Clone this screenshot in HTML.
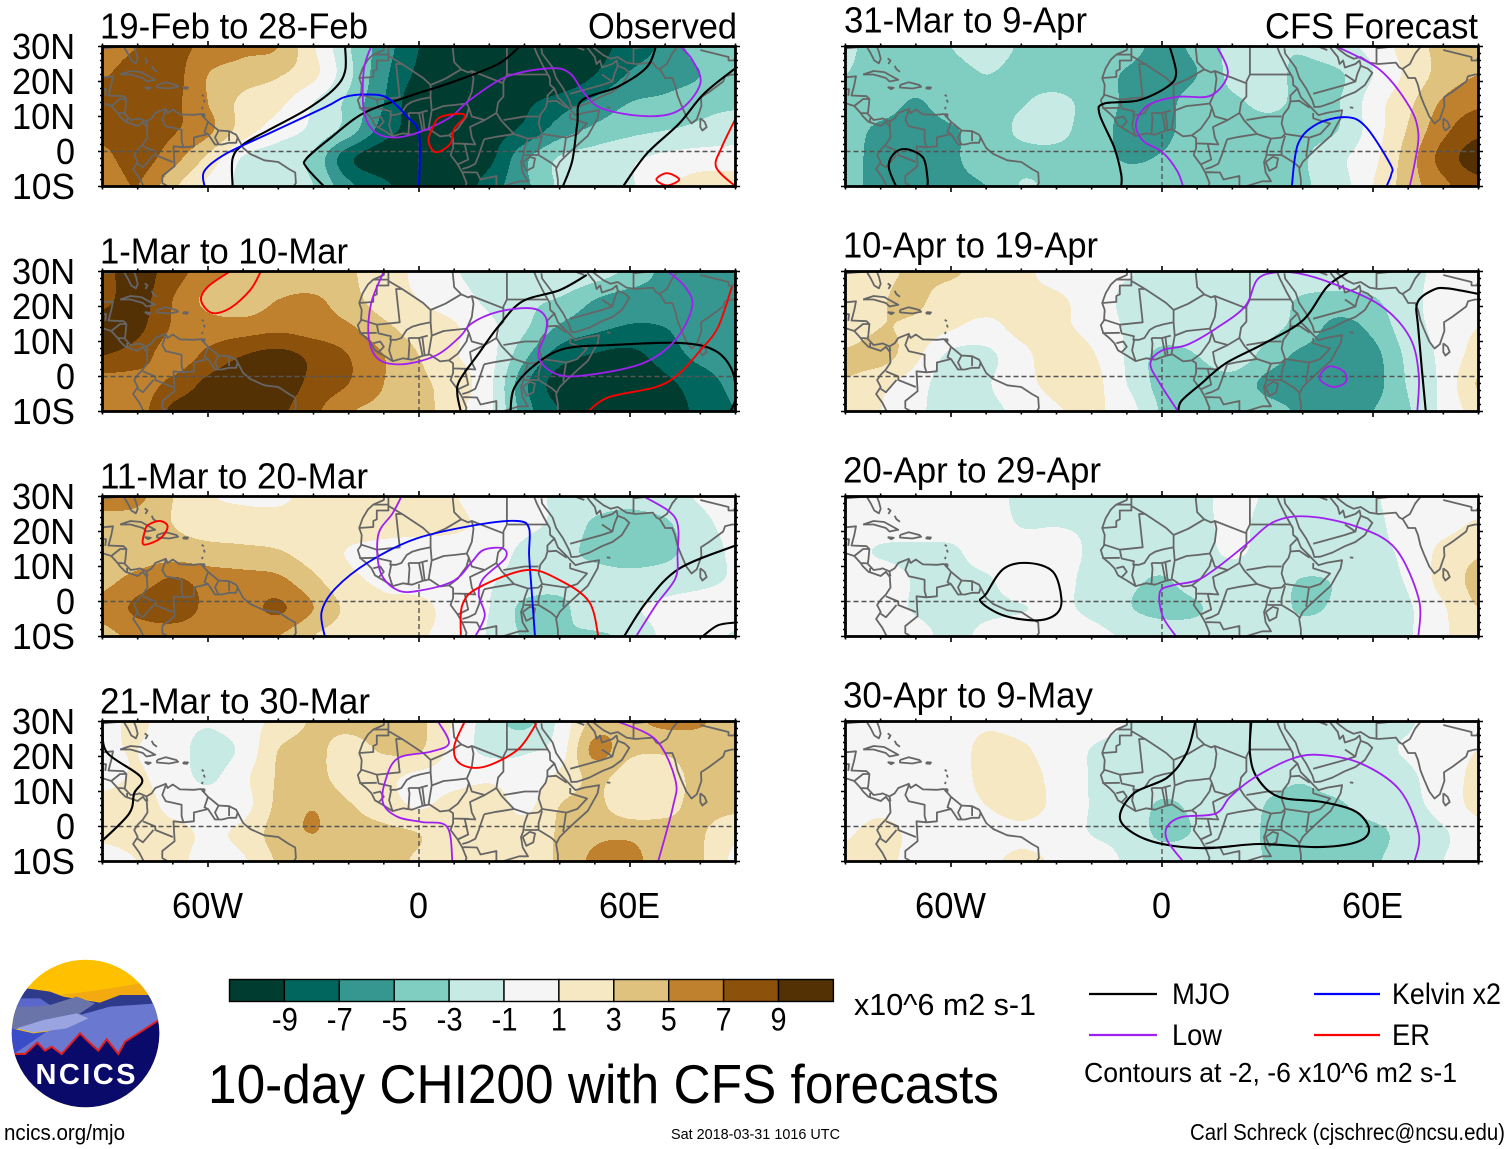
<!DOCTYPE html>
<html lang="en">
<head>
<meta charset="utf-8">
<title>10-day CHI200 with CFS forecasts</title>
<style>
html,body{margin:0;padding:0;background:#fff;width:1510px;height:1149px;overflow:hidden}
svg{display:block}
text{font-family:"Liberation Sans",sans-serif;fill:#000}
</style>
</head>
<body>
<svg id="chart" xmlns="http://www.w3.org/2000/svg" width="1510" height="1149" viewBox="0 0 1510 1149">
  <g id="panels"></g>

  <g font-size="36">
    <text x="100" y="38.5" textLength="268" lengthAdjust="spacingAndGlyphs">19-Feb to 28-Feb</text>
    <text x="100" y="263.5" textLength="248" lengthAdjust="spacingAndGlyphs">1-Mar to 10-Mar</text>
    <text x="100" y="488.5" textLength="268" lengthAdjust="spacingAndGlyphs">11-Mar to 20-Mar</text>
    <text x="100" y="713.5" textLength="270" lengthAdjust="spacingAndGlyphs">21-Mar to 30-Mar</text>
    <text x="844" y="32.5" textLength="243" lengthAdjust="spacingAndGlyphs">31-Mar to 9-Apr</text>
    <text x="843" y="257.5" textLength="255" lengthAdjust="spacingAndGlyphs">10-Apr to 19-Apr</text>
    <text x="843" y="482.5" textLength="258" lengthAdjust="spacingAndGlyphs">20-Apr to 29-Apr</text>
    <text x="843" y="707.5" textLength="250" lengthAdjust="spacingAndGlyphs">30-Apr to 9-May</text>
    <text x="588" y="38.5" textLength="149" lengthAdjust="spacingAndGlyphs">Observed</text>
    <text x="1265" y="38.5" textLength="213" lengthAdjust="spacingAndGlyphs">CFS Forecast</text>
  </g>

  <g id="colorbar"></g>
  <text x="854" y="1015" font-size="31" textLength="182" lengthAdjust="spacingAndGlyphs">x10^6 m2 s-1</text>

  <text x="208" y="1103" font-size="55" textLength="791" lengthAdjust="spacingAndGlyphs">10-day CHI200 with CFS forecasts</text>

  <g>
    <line x1="1089" y1="994" x2="1157" y2="994" stroke="#000" stroke-width="2.2"/>
    <text x="1172" y="1004" font-size="30" textLength="58" lengthAdjust="spacingAndGlyphs">MJO</text>
    <line x1="1314" y1="994" x2="1380" y2="994" stroke="#0000ff" stroke-width="2.2"/>
    <text x="1392" y="1004" font-size="30" textLength="109" lengthAdjust="spacingAndGlyphs">Kelvin x2</text>
    <line x1="1089" y1="1035" x2="1157" y2="1035" stroke="#a020f0" stroke-width="2.2"/>
    <text x="1172" y="1045" font-size="30" textLength="50" lengthAdjust="spacingAndGlyphs">Low</text>
    <line x1="1314" y1="1035" x2="1380" y2="1035" stroke="#ff0000" stroke-width="2.2"/>
    <text x="1392" y="1045" font-size="30" textLength="38" lengthAdjust="spacingAndGlyphs">ER</text>
    <text x="1084" y="1082" font-size="28" textLength="373" lengthAdjust="spacingAndGlyphs">Contours at -2, -6 x10^6 m2 s-1</text>
  </g>

  <a><text x="4" y="1140" font-size="22" textLength="121" lengthAdjust="spacingAndGlyphs">ncics.org/mjo</text></a>
  <text x="671" y="1139" font-size="15" textLength="169" lengthAdjust="spacingAndGlyphs">Sat 2018-03-31 1016 UTC</text>
  <text x="1190" y="1140" font-size="23" textLength="315" lengthAdjust="spacingAndGlyphs">Carl Schreck (cjschrec@ncsu.edu)</text>

  <g>
    <defs><clipPath id="logo-clip"><circle cx="85.5" cy="1033.5" r="73.8"/></clipPath></defs>
    <g clip-path="url(#logo-clip)">
      <rect x="10" y="958" width="152" height="152" fill="#ffc000"/>
      <polygon fill="#f2aa10" points="160,980 100,990 60,995 100,1002 160,1002"/>
      <g transform="translate(0,950) scale(0.33333)">
        <polygon fill="#2e3a8c" points="80,115 150,125 190,140 300,158 360,135 450,135 490,200 20,200"/>
        <polygon fill="#6a74a8" points="50,155 120,150 150,165 230,140 285,160 240,190 265,215 20,240 20,200"/>
        <polygon fill="#5a68cc" points="55,145 120,145 150,165 100,170 50,170"/>
        <polygon fill="#6a78d0" points="240,195 330,170 470,160 490,215 490,330 20,330 40,300 140,245 265,205"/>
        <polygon fill="#9aa4e0" points="50,235 130,210 230,190 265,205 200,235 100,248"/>
        <polygon fill="#3a4cc8" points="20,232 100,250 140,245 45,310 20,320"/>
        <polygon fill="#0a0a6a" stroke="#e02020" stroke-width="6" points="42,312 75,312 112,278 135,302 155,290 185,312 240,250 265,275 295,302 320,268 355,312 375,275 480,208 520,520 20,520 20,312"/>
      </g>
    </g>
    <text x="85.5" y="1084" font-size="29" font-weight="bold" text-anchor="middle" style="fill:#fff" textLength="100" lengthAdjust="spacing">NCICS</text>
  </g>
</svg>

<script>
// Grid coordinates of the CHI200 anomaly samples
const gridLons = [-90,-80,-70,-60,-50,-40,-30,-20,-10,0,10,20,30,40,50,60,70,80,90];
const gridLats = [30,22,14,6,-2,-10];

// Colour classes
const levelBreaks = [-9,-7,-5,-3,-1,1,3,5,7,9];
const levelColors = ['#003c30','#01665e','#35978f','#80cdc1','#c7eae5','#f5f5f5','#f6e8c3','#dfc27d','#bf812d','#8c510a','#543005'];

// Axis tick labels
const latTickValues = [30,20,10,0,-10];
const lonTickValues = [-60,0,60];

// CHI200 field values (x10^6 m2 s-1); rows follow gridLats
const fieldFeb19 = [
 [6,7,7.5,6.5,5.5,5,1.2,-2.8,-6,-9,-10.5,-11,-11,-11,-10,-8,-6.5,-4,-3.5],
 [6.8,8,7.8,5,4,3.2,1.5,-2.5,-6.5,-9.5,-11,-11,-11,-11,-9,-6.8,-6,-5,-3],
 [8,8,7.5,5,2.5,1.5,-1,-3.5,-7,-10.5,-11,-11,-9.5,-8,-6.5,-5,-4.5,-3.6,-3.2],
 [7.5,8,7.2,5.5,2,0,-1.5,-4,-8,-10,-11,-10,-8.5,-6,-4.5,-3.5,-3,-2.5,-2],
 [6.5,7.8,5.8,2.5,-1.2,-2.2,-3.5,-8.5,-10.5,-11,-11,-9.5,-5.5,-2.8,-2,-1.3,-0.5,0,0],
 [5.5,7,3.5,0.5,-1.5,-2,-3,-6.5,-8.5,-10.5,-10.5,-8,-5.5,-2.7,-2,-1.2,0.7,1.8,2]
];
const fieldMar1 = [
 [8.5,9.8,8,5.8,4.5,3.8,3.5,3.2,2,0.5,-0.8,-2,-2,-1.2,-2,-3.5,-5.5,-6,-6],
 [8.5,9.8,7,4.5,3.8,5,5.3,3.8,2,1,0,-1.5,-2.5,-3.2,-5,-6,-6,-6,-6],
 [10,9.5,6.8,6,6,6.5,6,5.3,3.5,2,1.2,-0.5,-2.7,-5.3,-6.5,-7.2,-7,-6,-6],
 [9,8,6,7.5,9,9.6,8.5,7,5,3,1.2,-0.3,-4.5,-8,-9.2,-9.6,-8,-6.5,-6],
 [6,6.2,7.5,9.5,10.5,10,8.5,7,5,3.5,2,-0.5,-6.5,-10,-11,-11,-9.5,-8,-6.5],
 [5.2,6,9.5,10,10.5,9.5,7.5,5.2,4.5,4,1.5,-0.5,-6,-9,-10,-10.5,-10,-8.5,-7]
];
const fieldMar11 = [
 [5.8,5.5,3,1.2,0.7,0.7,1.5,1.6,1.8,1.5,1.1,0,-0.5,-1.3,-2,-2.5,-1.8,-0.8,-0.5],
 [4.2,4,3,2.2,2,1.8,1.8,1.8,1.6,1.5,1.3,0.5,-0.5,-1.5,-3.3,-3.6,-3.3,-1.5,-0.5],
 [3.5,3.8,4,3.7,3.5,3.2,2,0.9,0.5,0.3,0.2,0,-1.5,-2.5,-3.3,-3.5,-3.4,-2,-0.7],
 [4.5,5.8,7.3,6.2,5.8,5.5,3.5,1.5,0.7,0.3,-0.2,-0.8,-1.8,-2.3,-2.3,-2.5,-2,-1.5,-0.8],
 [5.5,7.5,8.3,6.5,6.2,7.3,5,2.5,1.5,1.5,0.2,-1,-3.5,-3.5,-1.5,-1.2,-0.5,0,0],
 [4.5,5.5,5.8,5.5,5.3,5,3,2,1.8,1.2,0.3,-1.2,-3.2,-3,-3.3,-2.5,-0.6,-0.3,-1.2]
];
const fieldMar21 = [
 [0.5,1.3,0,-0.8,0.3,1.5,3.3,3.8,4.5,3.5,0.8,-2,-3.5,-0.5,3.8,4.5,5.5,5.2,4],
 [0.8,1,0,-1.8,-0.5,3,3.6,2,3.3,3.2,0.3,-1.5,-1.3,0,5.6,3.5,3.3,4,3.8],
 [0.3,1.2,0,-1.3,0.5,3.2,3.8,1.8,1.5,0.5,0.3,0.6,0,1.5,3.5,2,2.3,3.5,3.5],
 [1.8,1.8,0.5,0,0.3,3.5,4.9,3.2,2,0.8,1.8,2.2,0.5,3,3.5,1.8,2.5,3.5,3.5],
 [1.3,1.5,1.5,0.8,1.5,4,5,3.8,3.5,3,1.8,2,2,3.2,4.5,4.5,3.6,3.2,1.5],
 [0.5,1,1.5,0.3,0.8,3.2,3.6,3.7,3.6,2.7,1.5,1.5,2,3.3,5.5,5.8,3.5,3.2,0.5]
];
const fieldMar31 = [
 [-2.8,-3.5,-3.8,-3,-2.3,-3.2,-3.8,-4,-4.3,-5.5,-4.5,-2.5,-2.8,-2.8,-1.5,-0.5,2,3.5,4],
 [-3,-3.6,-3.8,-3.6,-3,-3.5,-3.8,-4.2,-5.2,-6,-5,-2.5,-2.3,-3.5,-3.3,-1,1.5,3.8,5],
 [-3.5,-3.9,-5.2,-3.8,-3.3,-3.1,-2.6,-3.7,-5.3,-5.6,-4,-3.3,-2.7,-3.3,-3.1,0,2.5,5.3,6.6],
 [-4,-5.5,-5.8,-5.3,-3.8,-2.8,-2.5,-4,-5.5,-5.5,-4,-3.5,-3.5,-3.5,-3,0,3.2,6.5,8.5],
 [-4.2,-5.8,-6,-5.5,-3.5,-3.4,-3.6,-4,-5.2,-4.8,-3.8,-3.5,-3.5,-3.2,-1.5,0.5,4,7.8,10],
 [-4.3,-5.7,-6,-5.8,-5,-2.9,-3.4,-3.6,-3.8,-3.8,-3.7,-3.5,-3.5,-3.2,-2,1,4,6.5,8.3]
];
const fieldApr10 = [
 [1.5,2.5,3.3,3.4,1.8,1.3,0.5,0,-0.8,-1.5,-1.7,-1.6,-1.8,-1.8,-1.8,-1.6,-1.5,-0.5,-0.3],
 [1.5,2.8,3.4,1.8,1.6,1.3,1.2,0.3,-1.5,-2,-2,-2,-2.2,-3.2,-3.6,-3.2,-1.5,-0.5,-0.3],
 [1.5,3,2.5,1.2,0.5,1.5,1.3,0.5,-1.2,-1.6,-2,-1.8,-2.4,-3.8,-5.6,-4.5,-1.8,-0.4,1],
 [3.4,3.8,1.5,-1.5,-1.5,0.5,1.7,1.2,-1.2,-3.6,-3,-1.8,-3.8,-5.5,-5.8,-5.6,-2.5,-0.5,1.8],
 [2.8,1.5,0,-2.2,-1.2,0.3,1.6,1.7,-1,-3.7,-4,-3.8,-5.5,-6.2,-6.3,-5.8,-2.8,-0.5,3.2],
 [1.3,1,-0.5,-2,-1.5,-0.5,0.8,1.3,0,-3.2,-3.7,-3.5,-4.2,-5.3,-5.7,-5,-3.2,-0.5,1.8]
];
const fieldApr20 = [
 [0,0,0,0,0,-1.5,-1.5,-1.5,-1.5,-1.7,-1.5,-0.5,-1.2,-1.6,-1.6,-1.2,0,0,0],
 [0,0,0,0,0,-1.1,-1.1,-1.3,-1.5,-1.7,-1.5,-0.6,-1.5,-1.7,-1.7,-1.5,0,0.3,1.3],
 [-0.3,-1.2,-1.5,-1.4,0,0,0.3,-1.4,-1.6,-1.8,-1.6,-0.8,-1.5,-1.8,-1.8,-1.5,-0.5,1.6,2.8],
 [0,0.3,-1.2,-1.5,-1.3,0.3,0,-1.8,-2.5,-3.2,-2,-1.8,-2,-3.1,-2.8,-1.5,-0.8,1.8,3.5],
 [0,0,-1.2,-1.6,-1.4,-1.1,-0.6,-1.5,-2.8,-3.6,-3.2,-1.7,-1.8,-3.3,-2.6,-1.6,-1.2,0.8,3],
 [0,0,-0.3,-1.5,-0.5,0.3,0.2,-0.3,-1.3,-1.8,-2,-1.8,-1.8,-1.8,-1.8,-1.7,-1.2,0.8,1.5]
];
const fieldApr30 = [
 [0,0,0,0,0.7,0.3,0,-0.3,-1,-1.5,-1.5,-1.5,-1.5,-1.5,-1.5,-1.4,-1.2,0,0],
 [0,0,0,0,1.6,1.3,0,-1.05,-1.5,-1.7,-1.7,-1.7,-1.7,-1.7,-1.6,-1.4,-0.8,0,1],
 [0,0,0,0,1.6,1.8,0.4,-1.1,-1.6,-1.7,-1.8,-1.8,-2.4,-2.8,-2,-1.7,-1.3,0,1.5],
 [0,0.5,0,0,1,1.8,0.5,-1.1,-1.6,-3.3,-2.5,-1.7,-3.1,-3.5,-3.3,-2,-1.5,-0.3,1.6],
 [0.8,1.6,0.5,0,0,0.5,0,-1.05,-1.6,-3.4,-2.8,-1.8,-3.3,-3.8,-4,-3.6,-2.2,-1.2,0],
 [1.4,1.6,0.3,0,0.5,1.5,0.7,0,-1.2,-1.7,-1.8,-2,-3.1,-3.6,-3.7,-3.3,-1.8,-1,0]
];

// Filtered-anomaly contours as [lon, lat] samples (first = last means closed)
const mjoFeb19 = [
 [[-21,30],[-21,23],[-24,18],[-32,12],[-43,6],[-50,2],[-53,-2],[-53,-10]],
 [[28.6,30],[22.5,25],[10,20],[-3.4,15.6],[-15.7,11],[-25,4],[-32,-2],[-32,-4.5],[-27,-10]],
 [[67.4,30],[64.7,24],[56.5,18.5],[46.3,14.6],[45,8],[43.6,-2.6],[40.9,-10]],
 [[90,23.8],[81,16.5],[74,8],[64.7,-0.7],[58,-10]]
];
const kelvinFeb19 = [[[-61,-10],[-61,-5.5],[-55,-0.7],[-43,5],[-26.6,12.7],[-21,15.6],[-14.3,16.3],[-9,15.3],[-3.4,10],[0,5],[0,-10]]];
const lowFeb19 = [[[-13.6,30],[-15.7,23.3],[-15.7,11.8],[-13,6],[-7.5,4],[0,5.5],[8.9,9.8],[14.3,14.6],[25,21.4],[37.5,23.8],[43,22.3],[47,16.6],[52.3,12.2],[64.7,10.1],[74,11.8],[80,19.4],[77.7,26.2],[74.3,30]]];
const erFeb19 = [
 [[4,7],[6,9.8],[11.6,10.8],[13,9.8],[10,6.5],[8.9,2.2],[4.8,-0.2],[2.7,3],[4,7]],
 [[67.5,-8],[70.5,-6.2],[74,-8],[70.5,-9.7],[67.5,-8]],
 [[90,9.4],[86,1],[84.5,-4.5],[90,-10]]
];
const mjoMar1 = [
 [[47.7,29],[40,24.7],[29.3,21.4],[22.5,14.2],[17,6.6],[11.6,-1],[10.9,-5],[11.9,-10]],
 [[26,-10],[27.2,-3],[33.4,3.7],[41.6,8],[55,9],[74,9.6],[84,7.5],[89,1.8],[90,-6],[88.5,-10]]
];
const lowMar1 = [[[-10,30],[-13.6,21],[-14.3,11.3],[-11.6,5],[-4.8,3.5],[4.8,6],[11.6,11.3],[15,15.2],[22.5,18.5],[32,19.5],[36,17],[36,12.3],[34,5.6],[38.8,0.8],[47,0.3],[63.4,3.7],[72.9,10.4],[77.7,20],[75.6,25.7],[70.8,30]]];
const erMar1 = [
 [[-53.8,30],[-60,25.7],[-62,21.9],[-59,18.2],[-53.8,19.5],[-48,24.7],[-45,30]],
 [[48,-10],[54,-5.9],[67.4,-3],[74,0.8],[80,7.5],[85,14],[89,25.7]]
];
const mjoMar11 = [
 [[58.3,-10],[64.7,-0.1],[74,9.4],[90,16]],
 [[80.6,-10],[85,-6.8],[90,-6]]
];
const kelvinMar11 = [[[-26.8,-10],[-27.7,-3],[-23.8,3.7],[-14.3,11.3],[-0.7,18],[17,22],[28,23],[31.3,20.9],[31.3,13.3],[32,3.7],[33,-10]]];
const lowMar11 = [
 [[-5,30],[-7.5,25.2],[-11.6,19],[-11,8.5],[-6,3.2],[0.7,3.2],[10,6],[15,11.3],[18.3,14.7],[23.8,15.2],[24.5,12.3],[18.3,6.6],[17,1.8],[18.7,-4],[16,-10]],
 [[64,30],[72.9,23.8],[73.5,13.3],[72.9,6.6],[67.4,-1],[61.7,-10]]
];
const erMar11 = [
 [[-77,21.9],[-73.6,23],[-71.5,21.4],[-73.6,18],[-78.3,16.3],[-78,19.9],[-77,21.9]],
 [[11.9,-10],[12.3,-1],[17,4],[30.7,9],[40.2,6],[48.4,-0.1],[51,-10]]
];
const mjoMar21 = [[[-90,27.6],[-88.6,21],[-79,14],[-81,9.5],[-82.4,3.7],[-90,-4]]];
const lowMar21 = [
 [[5.4,30],[8.5,23.8],[3.4,21.4],[-6,19.5],[-9.5,13.3],[-10.2,6.6],[-6,2.7],[0.7,1.3],[8,-0.1],[9.5,-10]],
 [[56.5,30],[67.4,24.7],[72.9,13.3],[72.2,5.6],[68,-10]]
];
const erMar21 = [[[13,30],[10,22.8],[11.6,18],[18.3,17],[28,21.9],[33.4,29.5]]];
const mjoMar31 = [
 [[2.2,30],[4,22.3],[1.5,18.5],[-6.7,14.6],[-16.4,13.7],[-17.8,10.8],[-13.6,1.2],[-11.6,-6.5],[-11.6,-10]],
 [[-75.6,-10],[-77.7,-4.5],[-76.3,-0.7],[-72.9,0.7],[-68,-1.7],[-66.7,-7.4],[-66.7,-10]]
];
const lowMar31 = [
 [[15.6,30],[18.7,22.3],[13.9,16],[4.3,15.6],[-4,13.2],[-7.4,7.9],[-5.4,3.1],[0.1,-0.2],[4.3,-5.5],[6,-10]],
 [[49.7,30],[62,23.3],[70.4,12.7],[72.9,5],[71.8,-3.6],[70.4,-10]]
];
const kelvinMar31 = [[[36.9,-10],[38.7,2.2],[44.2,7.9],[52.5,9.8],[58,7],[64.9,-3.6],[65.2,-6.5],[63.8,-10]]];
const mjoApr10 = [
 [[53.2,30],[47,25.7],[40,16],[29,9.4],[18,3.7],[11.2,-2],[5.6,-6.9],[4.6,-10]],
 [[75,-10],[72.9,13.3],[72.6,21],[77,24.7],[81,25.2],[90,23.6]]
];
const lowApr10 = [
 [[4.6,-10],[-0.6,-2],[-3.3,3.7],[0.1,7.5],[7,9],[15.3,13.7],[23.6,20],[27,27.6],[31.9,29.7],[38.7,29.5],[48.4,26.6],[62,20.4],[70.4,11.3],[73,0.8],[72.6,-10]],
 [[44.9,0.3],[47.7,2.9],[51.8,1.3],[52.2,-1.6],[49,-3],[45.6,-1.6],[44.9,0.3]]
];
const mjoApr20 = [[[-50,2.2],[-45,9.4],[-38,11],[-31,8.5],[-28.6,0.8],[-30,-3.5],[-35.6,-5.4],[-45,-4],[-51.5,-0.1],[-50,2.2]]];
const lowApr20 = [[[4,-10],[0.1,-4],[-0.6,2.7],[3,4.6],[9.8,6],[15.3,9.4],[23.6,16],[31.9,22.8],[41.6,24.3],[55.3,21.4],[66.3,15.2],[73,0.8],[72.9,-10]]];
const mjoApr30 = [[[9.5,30],[7,21],[1.5,14],[-8,9.5],[-12,2.7],[-8,-2],[0.1,-5],[12.5,-6.2],[27.7,-5],[44.2,-5.9],[55.2,-4.5],[58.9,-1],[55.2,4.2],[45.6,7],[33.2,8.5],[27,14],[25,21],[25.4,30]]];
const lowApr30 = [[[6,-10],[1.5,-4],[1.5,0],[5.6,2.7],[15.3,3.7],[19.4,8.5],[26.3,14],[37.3,19.5],[45.6,20.4],[56.6,18],[67.6,10.4],[73,-2],[71.8,-10]]];

// Coastlines and borders as [lon, lat] polylines
const coastLines = [
 [[-90,29.5],[-84,30],[-82.8,28],[-81.8,26],[-80.5,25.2],[-80,26.5],[-80.5,28.5],[-81.3,30.5]],
 [[-90,21.2],[-87,21.5],[-87.5,19],[-88.3,16],[-84,15.8],[-83.2,15],[-83.5,12],[-83.7,10.8],[-82,9],[-80,9.3],[-79.5,9.5],[-77.5,8.6],[-76,9.5],[-75,11],[-72,12.2],[-71.5,11],[-70,12],[-68,10.6],[-64,10.5],[-62,10.7],[-60,8.5],[-57,6],[-54,5.8],[-52,4.8],[-50,1],[-48,-0.7],[-44,-2.5],[-40,-3],[-37,-5],[-35.2,-6],[-35,-9],[-36,-10.5]],
 [[-90,13.8],[-87.5,13],[-85.7,11],[-85,10],[-83.5,8.5],[-82,8],[-80,7.3],[-78.5,8.5],[-77.4,7],[-77.2,4],[-78.5,2],[-80,0.5],[-81,-1],[-80,-3],[-81.3,-5],[-79.5,-7.5],[-78,-10.5]],
 [[-85,22],[-82,23],[-79,22.7],[-75,20.5],[-77.5,20],[-78.5,21],[-82,22],[-85,22]],
 [[-74.5,19],[-72,19.8],[-69,19],[-68.5,18.5],[-71,18],[-74.5,18.3],[-74.5,19]],
 [[-78,18.4],[-76.3,18.2],[-77,17.8],[-78,18.4]],
 [[-67,18.4],[-65.7,18.3],[-66,17.9],[-67,18],[-67,18.4]],
 [[-78,26.6],[-77.2,26],[-77.8,25]],
 [[-76,24.5],[-75.5,23.5],[-74.5,22.8]],
 [[-61.8,16.2],[-61.2,15.8]],[[-61.2,14.8],[-60.9,14]],[[-61.5,12.8],[-61.7,12.1]],
 [[-61.7,10.7],[-61,10.6],[-61,10.1],[-61.7,10.1]],
 [[-9.8,30.5],[-10,29],[-13,27.7],[-14.5,26.3],[-16,23.8],[-17,21],[-16.3,19],[-16.5,16],[-17.4,14.7],[-16.7,12.4],[-15,11],[-13.5,9.5],[-12.5,7.5],[-10,6],[-7.5,4.4],[-4.5,5.2],[-2,4.8],[1,5.9],[3,6.3],[6,4.3],[8.5,4.6],[9.7,3.8],[9.7,1],[9,-1],[11,-3.7],[12.3,-6],[13.5,-9],[13,-10.5]],
 [[32.5,30.5],[33.5,28],[35.5,24],[37.2,21],[37.3,19],[38.5,18],[39.5,15.5],[42,13],[43.3,11.6],[44.5,10.4],[47,11.1],[51.2,11.8],[50.8,9.5],[48,4.5],[45,1.8],[42,-1],[40,-3],[39,-5],[39.5,-8],[39.5,-10.5]],
 [[34.8,29.5],[35,28],[38,24],[39,21],[41,18],[42.8,14.5],[43.3,12.7],[45,12.8],[48.5,14],[52,15.8],[55,17],[57.7,19],[59.8,22.5],[58.5,23.7],[56.5,24.5],[56.2,26],[55,25],[52,24],[51.5,26],[50.5,25],[50,27],[48,29.5],[48.5,30.5]],
 [[49,30.2],[50.5,29],[52.5,27.5],[54.5,26.5],[56.5,27],[59,25.4],[61.5,25],[66.5,25.4],[67.5,24],[68.5,23.5],[70,21],[72,21],[72.8,19],[73.5,16],[74.5,13.5],[76,10],[77.5,8],[79,9.2],[80.3,13],[80.2,15.5],[82.5,17],[86.5,20],[87,21.5],[89,22],[90,22]],
 [[80,9.5],[81.2,8.5],[81.8,7],[80.6,6],[80,7],[80,9.5]],
 [[29.5,-3],[31.5,-1.5],[33,-2],[32.5,-4.5],[30.5,-5.5],[29.5,-3]],
 [[53.4,12.6],[54.4,12.5]]
];
const borderLines = [
 [[-90,17.8],[-89,17.8],[-89.2,15.9]],[[-87.5,13],[-85,15],[-83.2,15]],[[-85.7,11],[-83.7,10.9]],[[-83,9.6],[-83,8.2]],
 [[-72,11.8],[-73,9],[-72,7.2],[-70,6.8],[-67.5,6.2],[-67.5,3],[-67,1.2]],
 [[-60,8.5],[-61,5.5],[-60,5],[-64,4],[-64,1.5],[-67,1.2],[-69.8,1.5],[-69.5,-4.2],[-73,-7],[-73,-9],[-70.5,-10.5]],
 [[-60,5],[-58,2],[-56,2],[-54,2.5],[-52,2.5],[-51.5,4.2]],[[-57,6],[-58,4],[-57,2]],[[-54,5.8],[-54,3]],
 [[-78.5,1.5],[-75,0],[-75,-1],[-70,-3]],[[-80,-3.5],[-78.5,-4.5],[-75.5,-1]],[[-77.5,8.5],[-77.2,7.2]],
 [[-13,27.7],[-8.7,27.7],[-8.7,26],[-12,26],[-12,23.5],[-13,23],[-13,21.3],[-17,21]],
 [[-8.7,30.5],[-8.7,27.3],[-4.8,25],[-6.5,25],[-5.5,15.5],[-12,14.8],[-16.3,16.2]],
 [[-4.8,25],[1.2,21],[3.3,19],[3.3,15.5],[0.3,14.9],[-2,14.2],[-3.5,13.3],[-5,11],[-6.5,10.5],[-8.2,10.5],[-8,11.5],[-11.5,12.3],[-12,14.8]],
 [[9.5,30.5],[10,25.5],[12,23.5],[14,22.6],[15,23],[15.5,20.8],[15,17],[13.6,13.7],[10,13.3],[7,13],[3.6,11.7],[3.3,15.5]],
 [[3.3,19],[7.5,20.8],[12,23.5]],
 [[25,30.5],[25,22],[24,20],[24,15.7],[22.5,14],[22,11],[23.5,8.7],[27,5],[31,3.7],[34,4],[35,5],[41.8,4],[41,-1.5]],
 [[15,23],[24,19.5]],[[13.6,13.7],[14.2,12.5],[15,10],[18.7,9],[22,11]],
 [[25,22],[36.8,22]],
 [[38.5,18],[36.5,16],[36.5,14.3],[36,12.5],[34.5,10.5],[34,8],[35,5]],
 [[36.5,14.3],[39,14.5],[42,12.5]],
 [[43,11],[43,9.5],[47.8,8],[45,5],[42,4]],
 [[24,9],[27,9.5],[30,10],[33,10],[34,10]],
 [[37.7,-3.3],[34,-1],[30,-1]],[[37.7,-3.3],[39.2,-4.7]],[[34,-1],[34,1],[35,4.5]],
 [[31,3.7],[30,1],[29.6,-1.5],[29,-3],[29.5,-6],[31,-8.5],[28.5,-8.5],[22,-10.5]],
 [[22,-10.5],[22,-7],[17.5,-8],[16.5,-6],[13,-5.9],[12.3,-6]],
 [[18.5,3.5],[22,4.2],[27,5]],[[18.5,3.5],[17,-1],[16,-3.5],[14,-4.5],[12.3,-5]],
 [[11,-3.7],[14,-2.3],[13,2.2],[14,2.2]],
 [[9.8,2.3],[13,2.2],[16,2],[15,4],[14.5,7],[15.5,7.5],[18.7,9]],
 [[8.5,4.6],[11,6.5],[13.5,10],[14.2,12.5]],
 [[2.7,6.3],[3.6,11.7]],[[1.6,6.2],[1,11]],[[1,6],[0,11]],[[-3,11],[0,11],[2.5,11.7]],[[-3,5],[-2.7,9.5],[-3,11]],
 [[-7.5,4.4],[-8.5,7.5],[-7.9,10.5]],[[-13,9.5],[-11,10],[-10,8.5],[-11.5,6.9]],[[-17,12.4],[-12,12.5]],
 [[43,16.5],[52,19],[55,20],[52,22]],[[55,20],[55.5,22],[56.5,24.5]],[[39,32],[47,29]],
 [[61,25],[61,29.5],[66,30]],[[68.5,23.7],[70.5,25],[72,28],[74,30.5]],[[80,29],[88,27],[88,26],[89.5,26],[90,27]]
];

// Panel registry
const panelRegistry = [
 {key:'19-feb', col:0,row:0, field:fieldFeb19, mjo:mjoFeb19, kelvin:kelvinFeb19, low:lowFeb19, er:erFeb19},
 {key:'1-mar',  col:0,row:1, field:fieldMar1,  mjo:mjoMar1,  kelvin:[],          low:lowMar1,  er:erMar1},
 {key:'11-mar', col:0,row:2, field:fieldMar11, mjo:mjoMar11, kelvin:kelvinMar11, low:lowMar11, er:erMar11},
 {key:'21-mar', col:0,row:3, field:fieldMar21, mjo:mjoMar21, kelvin:[],          low:lowMar21, er:erMar21},
 {key:'31-mar', col:1,row:0, field:fieldMar31, mjo:mjoMar31, kelvin:kelvinMar31, low:lowMar31, er:[]},
 {key:'10-apr', col:1,row:1, field:fieldApr10, mjo:mjoApr10, kelvin:[],          low:lowApr10, er:[]},
 {key:'20-apr', col:1,row:2, field:fieldApr20, mjo:mjoApr20, kelvin:[],          low:lowApr20, er:[]},
 {key:'30-apr', col:1,row:3, field:fieldApr30, mjo:mjoApr30, kelvin:[],          low:lowApr30, er:[]}
];

const SVGNS = 'http://www.w3.org/2000/svg';
const PW = 633, PH = 140;
const lineStyles = {mjo:['#000000',2.1], kelvin:['#0000ff',1.9], low:['#a020f0',1.8], er:['#ff0000',1.9]};

function mk(tag, parent){ const e = document.createElementNS(SVGNS, tag); parent.appendChild(e); return e; }
function cr(a,b,c,d,t){ return 0.5*((2*b)+(-a+c)*t+(2*a-5*b+4*c-d)*t*t+(-a+3*b-3*c+d)*t*t*t); }
function sampleField(f, lon, lat){
  const u = (lon-gridLons[0])/(gridLons[1]-gridLons[0]);
  const v = (gridLats[0]-lat)/(gridLats[0]-gridLats[1]);
  const nx = gridLons.length, ny = gridLats.length;
  const i = Math.min(nx-2, Math.max(0, Math.floor(u))), j = Math.min(ny-2, Math.max(0, Math.floor(v)));
  const tx = u-i, ty = v-j, col = [];
  for(let m=-1;m<=2;m++){
    const r = f[Math.min(ny-1,Math.max(0,j+m))];
    col.push(cr(r[Math.max(0,i-1)],r[i],r[i+1],r[Math.min(nx-1,i+2)],tx));
  }
  return cr(col[0],col[1],col[2],col[3],ty);
}
function levelOf(v){ let k=0; while(k<levelBreaks.length && v>=levelBreaks[k]) k++; return k; }
function splinePath(pts, X, Y){
  const closed = pts.length>2 && pts[0][0]===pts[pts.length-1][0] && pts[0][1]===pts[pts.length-1][1];
  const P = pts.map(p=>[X(p[0]),Y(p[1])]);
  const n = P.length;
  const at = i => closed ? P[((i%(n-1))+(n-1))%(n-1)] : P[Math.max(0,Math.min(n-1,i))];
  let d = 'M'+P[0][0].toFixed(1)+' '+P[0][1].toFixed(1);
  for(let i=0;i<n-1;i++){
    const p0=at(i-1),p1=at(i),p2=at(i+1),p3=at(i+2);
    d += 'C'+(p1[0]+(p2[0]-p0[0])/6).toFixed(1)+' '+(p1[1]+(p2[1]-p0[1])/6).toFixed(1)+' '+(p2[0]-(p3[0]-p1[0])/6).toFixed(1)+' '+(p2[1]-(p3[1]-p1[1])/6).toFixed(1)+' '+p2[0].toFixed(1)+' '+p2[1].toFixed(1);
  }
  return d;
}
function polyPath(lines, X, Y){
  return lines.map(l=>'M'+l.map(p=>X(p[0]).toFixed(1)+' '+Y(p[1]).toFixed(1)).join('L')).join('');
}
function latLabel(v){ return v===0?'0':(v>0?v+'N':(-v)+'S'); }
function lonLabel(v){ return v===0?'0':(v>0?v+'E':(-v)+'W'); }

const panelsRoot = document.getElementById('panels');
panelRegistry.forEach(function(p){
  const x0 = p.col===0 ? 102 : 845;
  const y0 = 46 + p.row*225;
  const X = lon => x0 + 0.5 + (lon+90)*PW/180;
  const Y = lat => y0 + 0.5 + (30-lat)*PH/40;

  const g = mk('g', panelsRoot);
  
  

  const defs = mk('defs', g);
  const cp = mk('clipPath', defs);
  cp.setAttribute('id', 'clip-'+p.key);
  const cr1 = mk('rect', cp);
  cr1.setAttribute('x', x0); cr1.setAttribute('y', y0); cr1.setAttribute('width', PW+1); cr1.setAttribute('height', PH+1);

  const inner = mk('g', g);
  inner.setAttribute('clip-path', 'url(#clip-'+p.key+')');

  // filled field
  const ds = levelColors.map(()=>[]);
  for(let py=0; py<=PH; py++){
    const lat = 30-(py)*40/PH;
    let start = 0, cur = -1;
    for(let px=0; px<=PW; px++){
      const lon = -90+(px)*180/PW;
      const lv = levelOf(sampleField(p.field, lon, lat));
      if(cur<0){cur=lv;start=px;}
      else if(lv!==cur){ ds[cur].push('M'+(x0+start)+' '+(y0+py)+'h'+(px-start)+'v1h'+(start-px)+'z'); cur=lv; start=px; }
    }
    ds[cur].push('M'+(x0+start)+' '+(y0+py)+'h'+(PW+1-start)+'v1h'+(start-PW-1)+'z');
  }
  const fieldG = mk('g', inner);
  
  
  ds.forEach(function(list, k){
    if(!list.length) return;
    const e = mk('path', fieldG);
    
    
    e.setAttribute('d', list.join(''));
    e.setAttribute('fill', levelColors[k]);
    e.setAttribute('shape-rendering', 'crispEdges');
  });

  // coastlines + borders
  const map = mk('path', inner);
  
  
  map.setAttribute('d', polyPath(coastLines.concat(borderLines), X, Y));
  map.setAttribute('fill', 'none');
  map.setAttribute('stroke', '#666');
  map.setAttribute('stroke-width', '1.8');
  map.setAttribute('stroke-linejoin', 'round');

  // reference dashes
  const eq = mk('line', inner);
  
  
  eq.setAttribute('x1', X(-90)); eq.setAttribute('x2', X(90)); eq.setAttribute('y1', Y(0)); eq.setAttribute('y2', Y(0));
  eq.setAttribute('stroke', '#555'); eq.setAttribute('stroke-width', '1.4'); eq.setAttribute('stroke-dasharray', '5 3');
  const pm = mk('line', inner);
  
  
  pm.setAttribute('x1', X(0)); pm.setAttribute('x2', X(0)); pm.setAttribute('y1', Y(5)); pm.setAttribute('y2', Y(-10));
  pm.setAttribute('stroke', '#555'); pm.setAttribute('stroke-width', '1.4'); pm.setAttribute('stroke-dasharray', '5 3');

  // wave contours
  ['mjo','kelvin','low','er'].forEach(function(kind){
    p[kind].forEach(function(pts){
      const c = mk('path', inner);
      
      
      c.setAttribute('d', splinePath(pts, X, Y));
      c.setAttribute('fill', 'none');
      c.setAttribute('stroke', lineStyles[kind][0]);
      c.setAttribute('stroke-width', lineStyles[kind][1]);
    });
  });

  // frame
  const fr = mk('rect', g);
  
  
  fr.setAttribute('x', x0+0.5); fr.setAttribute('y', y0+0.5); fr.setAttribute('width', PW); fr.setAttribute('height', PH);
  fr.setAttribute('fill', 'none'); fr.setAttribute('stroke', '#000'); fr.setAttribute('stroke-width', '2.8');

  // ticks
  let t = '';
  for(let lon=-90; lon<=90; lon+=10){
    const L = lonTickValues.indexOf(lon)>=0 ? 5.5 : 3;
    t += 'M'+X(lon)+' '+(Y(30)-L)+'V'+Y(30)+'M'+X(lon)+' '+Y(-10)+'V'+(Y(-10)+L);
  }
  for(let lat=-10; lat<=30; lat+=2){
    const L = latTickValues.indexOf(lat)>=0 ? 4.5 : 2.5;
    t += 'M'+(X(-90)-L)+' '+Y(lat)+'H'+X(-90)+'M'+X(90)+' '+Y(lat)+'H'+(X(90)+L);
  }
  const tk = mk('path', g);
  
  
  tk.setAttribute('d', t);
  tk.setAttribute('stroke', '#000');
  tk.setAttribute('stroke-width', '1.6');
  tk.setAttribute('fill', 'none');

  // latitude labels (left column only)
  if(p.col===0){
    latTickValues.forEach(function(v){
      const s = mk('text', g);
      
      
      s.setAttribute('x', 75);
      s.setAttribute('y', Y(v)+12.5);
      s.setAttribute('font-size', '36');
      s.setAttribute('text-anchor', 'end');
      s.setAttribute('textLength', v===0 ? 19 : 63);
      s.setAttribute('lengthAdjust', 'spacingAndGlyphs');
      s.textContent = latLabel(v);
    });
  }
  // longitude labels (bottom row only)
  if(p.row===3){
    lonTickValues.forEach(function(v){
      const s = mk('text', g);
      
      
      s.setAttribute('x', X(v)-0.5);
      s.setAttribute('y', 918);
      s.setAttribute('font-size', '36');
      s.setAttribute('text-anchor', 'middle');
      s.setAttribute('textLength', v===0 ? 19 : (v<0 ? 71 : 61));
      s.setAttribute('lengthAdjust', 'spacingAndGlyphs');
      s.textContent = lonLabel(v);
    });
  }
});

// colour bar
const cb = document.getElementById('colorbar');
levelColors.forEach(function(col, i){
  const r = mk('rect', cb);
  
  
  r.setAttribute('x', 229.5+i*54.9);
  r.setAttribute('y', 979.5);
  r.setAttribute('width', 54.9);
  r.setAttribute('height', 22);
  r.setAttribute('fill', col);
  r.setAttribute('stroke', '#000');
  r.setAttribute('stroke-width', '1.4');
});
levelBreaks.forEach(function(v, i){
  const s = mk('text', cb);
  
  
  s.setAttribute('x', 229.5+(i+1)*54.9 + (v<0?0.5:0));
  s.setAttribute('y', 1030.5);
  s.setAttribute('font-size', '32');
  s.setAttribute('text-anchor', 'middle');
  s.setAttribute('textLength', v<0 ? 26 : 16);
  s.setAttribute('lengthAdjust', 'spacingAndGlyphs');
  s.textContent = String(v);
});
</script>
</body>
</html>
